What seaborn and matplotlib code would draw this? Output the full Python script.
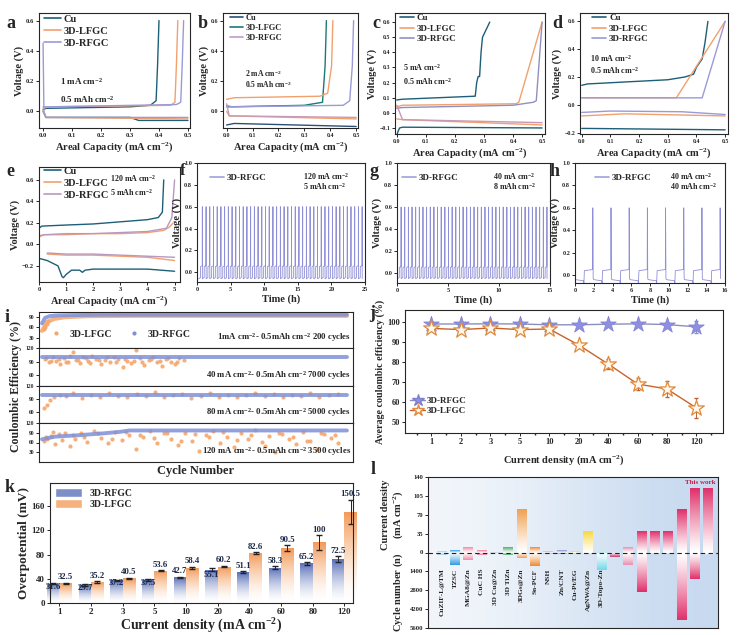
import numpy as np
import pandas as pd
import matplotlib
matplotlib.use("Agg")
import matplotlib.pyplot as plt
import seaborn as sns
from matplotlib.colors import to_rgb
from matplotlib.lines import Line2D
from matplotlib.patches import Patch

# ---------------- data ----------------
# panel a (1 mA cm-2, 0.5 mAh cm-2)
a_cu_dis_x = [0.0, 0.01, 0.30, 0.33, 0.50]
a_cu_dis_y = [0.00, -0.04, -0.04, -0.06, -0.06]
a_cu_chg_x = [0.0, 0.01, 0.30, 0.37, 0.39, 0.395, 0.40]
a_cu_chg_y = [0.01, 0.02, 0.03, 0.04, 0.07, 0.30, 0.60]
a_lf_dis_x = [0.0, 0.01, 0.50]
a_lf_dis_y = [0.00, -0.04, -0.05]
a_lf_chg_x = [0.0, 0.02, 0.44, 0.455, 0.46, 0.465]
a_lf_chg_y = [0.02, 0.03, 0.04, 0.06, 0.30, 0.60]
a_rf_dis_x = [0.0, 0.003, 0.01, 0.50]
a_rf_dis_y = [0.45, 0.00, -0.04, -0.04]
a_rf_chg_x = [0.0, 0.02, 0.46, 0.475, 0.48, 0.485]
a_rf_chg_y = [0.03, 0.03, 0.045, 0.06, 0.30, 0.60]

# panel b (2 mA cm-2)
b_cu_dis_x = [0.0, 0.03, 0.50]
b_cu_dis_y = [-0.09, -0.08, -0.10]
b_lf_chg_x = [0.0, 0.01, 0.30, 0.37, 0.38, 0.385]
b_lf_chg_y = [0.03, 0.03, 0.04, 0.06, 0.30, 0.60]
b_or_chg_x = [0.0, 0.03, 0.36, 0.39, 0.405, 0.41]
b_or_chg_y = [0.08, 0.09, 0.10, 0.12, 0.30, 0.60]
b_or_dis_x = [0.0, 0.01, 0.50]
b_or_dis_y = [0.00, -0.03, -0.05]
b_rf_chg_x = [0.0, 0.02, 0.45, 0.475, 0.485, 0.49]
b_rf_chg_y = [0.04, 0.03, 0.04, 0.07, 0.30, 0.60]
b_rf_dis_x = [0.0, 0.01, 0.50]
b_rf_dis_y = [0.05, -0.03, -0.04]

# panel c (5 mA cm-2)
c_cu_chg_x = [0.0, 0.02, 0.27, 0.275, 0.28, 0.285, 0.29, 0.295, 0.30, 0.32]
c_cu_chg_y = [0.085, 0.09, 0.11, 0.20, 0.24, 0.24, 0.40, 0.50, 0.52, 0.60]
c_cu_dis_x = [0.0, 0.005, 0.01, 0.02, 0.50]
c_cu_dis_y = [-0.15, -0.12, -0.10, -0.095, -0.10]
c_lf_chg_x = [0.0, 0.02, 0.41, 0.42, 0.50]
c_lf_chg_y = [0.04, 0.05, 0.06, 0.07, 0.60]
c_lf_dis_x = [0.0, 0.02, 0.50]
c_lf_dis_y = [-0.04, -0.045, -0.08]
c_rf_chg_x = [0.0, 0.02, 0.40, 0.47, 0.48, 0.50]
c_rf_chg_y = [0.03, 0.035, 0.05, 0.07, 0.08, 0.60]
c_rf_dis_x = [0.0, 0.02, 0.50]
c_rf_dis_y = [0.05, -0.045, -0.065]

# panel d (10 mA cm-2)
d_cu_chg_x = [0.0, 0.02, 0.30, 0.36, 0.39, 0.40, 0.41, 0.42, 0.43, 0.44]
d_cu_chg_y = [0.14, 0.15, 0.18, 0.20, 0.22, 0.27, 0.30, 0.33, 0.45, 0.60]
d_cu_dis_x = [0.0, 0.02, 0.50]
d_cu_dis_y = [-0.17, -0.17, -0.18]
d_lf_chg_x = [0.0, 0.33, 0.50]
d_lf_chg_y = [0.05, 0.05, 0.60]
d_lf_dis_x = [0.0, 0.15, 0.50]
d_lf_dis_y = [-0.08, -0.065, -0.08]
d_rf_chg_x = [0.0, 0.42, 0.50]
d_rf_chg_y = [0.05, 0.05, 0.60]
d_rf_dis_x = [0.0, 0.10, 0.35, 0.50]
d_rf_dis_y = [-0.055, -0.045, -0.05, -0.07]

# panel e (120 mA cm-2, 5 mAh cm-2)
e_cu_chg_x = [0.0, 0.1, 1.0, 2.0, 3.0, 4.0, 4.4, 4.55, 4.6]
e_cu_chg_y = [0.15, 0.17, 0.18, 0.19, 0.21, 0.23, 0.25, 0.30, 0.60]
e_cu_dis_x = [0.0, 0.3, 0.7, 0.85, 0.9, 1.0, 1.2, 1.5, 1.6, 1.7, 2.0, 3.0, 4.0, 5.0]
e_cu_dis_y = [-0.13, -0.15, -0.20, -0.30, -0.31, -0.28, -0.24, -0.24, -0.26, -0.24, -0.23, -0.23, -0.23, -0.25]
e_lf_chg_x = [0.0, 0.2, 1.0, 2.0, 3.0, 4.0, 4.6, 4.8, 4.95]
e_lf_chg_y = [0.07, 0.09, 0.09, 0.10, 0.10, 0.11, 0.13, 0.16, 0.20]
e_lf_dis_x = [0.3, 1.0, 2.0, 3.0, 4.0, 5.0]
e_lf_dis_y = [-0.09, -0.10, -0.10, -0.11, -0.12, -0.15]
e_rf_chg_x = [0.0, 0.2, 1.0, 2.0, 3.0, 4.0, 4.7, 4.9, 5.0]
e_rf_chg_y = [0.08, 0.09, 0.10, 0.10, 0.11, 0.12, 0.15, 0.25, 0.60]
e_rf_dis_x = [0.3, 1.0, 2.0, 3.0, 4.0, 5.0]
e_rf_dis_y = [-0.08, -0.09, -0.09, -0.10, -0.11, -0.12]

# panels f, g, h: one cycle profile, repeated for the number of cycles shown
f_cycle_t = [0.0, 0.26, 0.27, 0.53, 0.545, 0.553]
f_cycle_v = [-0.06, -0.05, 0.05, 0.06, 0.60, -0.06]
f_period = 0.553
f_cycles = 44
f_start = 0.25
g_cycle_t = [0.0, 0.17, 0.18, 0.345, 0.352, 0.3575]
g_cycle_v = [-0.05, -0.04, 0.05, 0.06, 0.60, -0.05]
g_period = 0.3575
g_cycles = 41
g_start = 0.05
h_cycle_t = [0.0, 0.05, 0.90, 0.95, 1.0, 1.88, 1.90, 1.94]
h_cycle_v = [-0.03, -0.04, -0.05, -0.07, 0.04, 0.05, 0.60, -0.03]
h_period = 1.94
h_cycles = 8
h_start = 0.0

# panel i: coulombic efficiency
i1_rf_x = [0, 2, 5, 10, 20, 40, 200]
i1_rf_y = [72, 88, 93, 95, 96, 97, 97]
i1_lf_x = [0, 3, 8, 15, 30, 60, 200]
i1_lf_y = [50, 75, 85, 90, 93, 94, 94]
i1_lfpt_x = [1, 2, 3, 4]
i1_lfpt_y = [55, 62, 70, 78]
i2_rf_x = [0, 7000]
i2_rf_y = [99, 99]
i2_lf_x = [60, 150, 250, 330, 420, 500, 600, 700, 780, 860, 950, 1050, 1150, 1250, 1350, 1450, 1550,
           1650, 1750, 1850, 1950, 2050, 2150, 2250, 2350, 2450, 2550, 2650, 2750, 2850, 2950, 3050, 3150, 3250,
           100, 200, 380, 550, 650, 820, 1000, 1100, 1300, 1500, 1700, 1900, 2100, 2300, 2500, 2700, 2900, 3100]
i2_lf_y = [95, 88, 100, 92, 85, 98, 90, 112, 94, 87, 99, 91, 103, 96, 84, 93, 89,
           101, 95, 78, 92, 86, 115, 97, 83, 94, 100, 88, 80, 96, 90, 85, 98, 93,
           97, 91, 95, 89, 102, 93, 97, 86, 94, 99, 90, 96, 92, 88, 95, 91, 97, 89]
i3_rf_x = [0, 5000]
i3_rf_y = [99, 99]
i3_lf_x = [30, 80, 130, 200, 300, 400, 500, 650, 800, 950, 1100, 1250, 1400, 1550, 1700, 1850, 2000, 2150,
           2300, 2450, 2600, 2750, 2900, 3050, 3200, 3350, 3500, 3650, 3800, 3950, 4100, 4250, 4400, 4550, 4700, 4850]
i3_lf_y = [70, 78, 88, 95, 100, 97, 105, 92, 99, 96, 103, 98, 94, 101, 97, 106, 95, 99,
           102, 93, 98, 104, 96, 100, 94, 99, 103, 97, 101, 95, 100, 98, 104, 96, 99, 101]
i4_rf_x = [0, 150, 400, 700, 900, 1000, 3500]
i4_rf_y = [70, 78, 82, 88, 93, 97, 97]
i4_lf_x = [20, 60, 100, 150, 200, 260, 320, 380, 450, 520, 600, 680, 760, 840, 920, 1000, 1080, 1160, 1240,
           1320, 1400, 1480, 1560, 1640, 1720, 1800, 1880, 1960, 2040, 2120, 2200, 2280, 2360, 2440, 2520,
           2600, 2680, 2760, 2840, 2920, 3000, 3080, 3160, 3240, 3320, 3400,
           40, 130, 230, 350, 480, 640, 800, 960, 1120, 1280, 1440, 1600, 1760, 1920, 2080, 2240, 2400,
           2560, 2720, 2880, 3040, 3200, 3360]
i4_lf_y = [65, 72, 80, 55, 85, 90, 48, 70, 88, 62, 95, 75, 58, 92, 68, 84, 40, 78, 96,
           60, 88, 72, 52, 90, 66, 35, 82, 94, 58, 76, 45, 88, 70, 98, 62,
           80, 30, 85, 72, 55, 92, 66, 40, 86, 74, 60,
           78, 92, 68, 84, 76, 88, 70, 93, 82, 74, 90, 64, 86, 78, 92, 68, 84,
           50, 90, 78, 64, 88, 82]

# panel j / k: current densities
densities = ["1", "2", "3", "5", "10", "20", "40", "60", "80", "120"]
j_rf_ce = [99.0, 99.0, 99.1, 99.0, 98.6, 98.6, 98.9, 99.1, 98.7, 97.6]
j_rf_err = [0.5, 0.5, 0.5, 0.5, 0.5, 0.5, 0.6, 0.8, 1.5, 3.0]
j_lf_ce = [96.8, 96.2, 97.0, 96.2, 96.5, 88.5, 79.0, 69.0, 66.5, 57.0]
j_lf_err = [1.0, 1.0, 1.0, 1.0, 1.0, 1.5, 2.5, 3.0, 4.0, 5.0]
k_rf_mv = [31.6, 29.7, 37.2, 37.5, 42.7, 55.1, 51.1, 58.3, 65.2, 72.5]
k_rf_err = [1.0, 1.0, 1.5, 1.5, 1.0, 2.0, 1.5, 3.0, 3.0, 5.0]
k_lf_mv = [32.5, 35.2, 40.5, 53.6, 58.4, 60.2, 82.6, 90.5, 100.0, 150.5]
k_lf_err = [1.0, 1.5, 1.5, 1.0, 1.5, 1.5, 2.0, 4.5, 12.0, 20.0]

# panel l: comparison with literature
l_names = ["CuZIF-L@TM", "TZSC", "MGA8@Zn", "CuC HS", "3D Cu@Zn", "3D TiZn", "3DGs@Zn", "Sn-PCF", "NSH",
           "Zn/CNT", "Cu-Pt/EG", "AgNWA@Zn", "3D-Topo-Zn", "", "", "", "", "", "", "", ""]
l_density = [2, 5, 10, 5, 1, 10, 80, 10, 2, 5, 2, 40, 1, 0, 10, 40, 40, 40, 80, 120, 120]
l_cycles = [200, 950, 560, 200, 50, 200, 440, 1000, 100, 100, 100, 50, 1300, 300, 900, 2900, 60, 60, 5000, 2000, 0]
l_colors = ["#9ec8e8", "#2f9be0", "#f08aa8", "#f07898", "#a8b4d4", "#4caf6c", "#f0a050", "#f08a30", "#b8b0e4",
            "#8090d0", "#e0d070", "#f8d840", "#70d8e8", "#c03870", "#e890b0", "#e0306a", "#e0306a",
            "#e0306a", "#e0306a", "#e0306a", "#e0306a"]

# ---------------- style ----------------
sns.set_theme(style="ticks")
plt.rcParams["font.family"] = ["Liberation Serif", "DejaVu Serif"]
plt.rcParams.update({
    "font.weight": "bold", "axes.labelweight": "bold", "axes.linewidth": 0.8,
    "xtick.major.size": 2, "ytick.major.size": 2, "xtick.major.width": 0.7, "ytick.major.width": 0.7,
    "xtick.major.pad": 1.5, "ytick.major.pad": 1.5, "axes.labelpad": 1.5,
    "mathtext.fontset": "custom", "mathtext.rm": "Liberation Serif:bold",
    "mathtext.bf": "Liberation Serif:bold", "mathtext.it": "Liberation Serif:bold:italic",
    "mathtext.default": "rm", "legend.handlelength": 1.6,
})

CU = "#1d5f78"
LF = "#f2a06e"
RF = "#9b9ad8"

W, H = 740, 635
fig = plt.figure(figsize=(W / 100, H / 100), dpi=100)
fig.patch.set_facecolor("white")


def add_ax(x0, y0, x1, y1):
    return fig.add_axes([x0 / W, 1 - y1 / H, (x1 - x0) / W, (y1 - y0) / H])


def line(ax, x, y, color, lw=1.0, alpha=1.0):
    sns.lineplot(x=x, y=y, ax=ax, color=color, lw=lw, sort=False, estimator=None, legend=False, alpha=alpha)


def style(ax, ts=4.8):
    ax.tick_params(labelsize=ts)
    for lab in ax.get_xticklabels() + ax.get_yticklabels():
        lab.set_fontweight("bold")


def leg(ax, items, fs, loc="upper left", **kw):
    handles = [Line2D([], [], color=c, lw=1.2) for _, c in items]
    ax.legend(handles, [n for n, _ in items], loc=loc, frameon=False, fontsize=fs,
              prop={"weight": "bold", "size": fs}, borderaxespad=0.1, handletextpad=0.3,
              labelspacing=0.25, **kw)


def panel(label, x, y, fs=13):
    fig.text(x / W, 1 - y / H, label, fontsize=fs, fontweight="bold", va="center", ha="left")


def cycles(t_prof, v_prof, period, n, t0):
    t = np.concatenate([t0 + k * period + np.asarray(t_prof) for k in range(n)])
    v = np.tile(np.asarray(v_prof), n)
    return t, v


# ---------------- a ----------------
ax = add_ax(39, 13, 190, 128)
line(ax, a_cu_dis_x, a_cu_dis_y, CU); line(ax, a_cu_chg_x, a_cu_chg_y, CU)
line(ax, a_lf_dis_x, a_lf_dis_y, LF); line(ax, a_lf_chg_x, a_lf_chg_y, LF)
line(ax, a_rf_dis_x, a_rf_dis_y, RF); line(ax, a_rf_chg_x, a_rf_chg_y, RF)
ax.set_xlim(-0.014, 0.507); ax.set_ylim(-0.11, 0.65)
ax.set_xticks([0, 0.1, 0.2, 0.3, 0.4, 0.5]); ax.set_yticks([0.0, 0.2, 0.4, 0.6])
ax.set_xlabel("Areal Capacity (mA cm$^{-2}$)", fontsize=7.5)
ax.set_ylabel("Voltage (V)", fontsize=7.5)
leg(ax, [("Cu", CU), ("3D-LFGC", LF), ("3D-RFGC", RF)], 7.5, bbox_to_anchor=(0.0, 1.03))
ax.text(0.06, 0.2, "1 mA cm$^{-2}$", fontsize=6.5, va="center")
ax.text(0.06, 0.08, "0.5 mAh cm$^{-2}$", fontsize=6.5, va="center")
style(ax)
panel("a", 6, 24)

# ---------------- b ----------------
ax = add_ax(223, 13, 358, 128)
line(ax, b_cu_dis_x, b_cu_dis_y, "#2c4f76")
line(ax, b_lf_chg_x, b_lf_chg_y, "#1a7a76")
line(ax, b_or_chg_x, b_or_chg_y, LF); line(ax, b_or_dis_x, b_or_dis_y, LF)
line(ax, b_rf_chg_x, b_rf_chg_y, RF); line(ax, b_rf_dis_x, b_rf_dis_y, "#c89ab8")
ax.set_xlim(-0.014, 0.507); ax.set_ylim(-0.11, 0.65)
ax.set_xticks([0, 0.1, 0.2, 0.3, 0.4, 0.5]); ax.set_yticks([0.0, 0.2, 0.4, 0.6])
ax.set_xlabel("Area Capacity (mA cm$^{-2}$)", fontsize=7.5)
ax.set_ylabel("Voltage (V)", fontsize=7.5)
leg(ax, [("Cu", "#2c4f76"), ("3D-LFGC", "#1a7a76"), ("3D-RFGC", "#c09ad0")], 6, bbox_to_anchor=(0.02, 1.03))
ax.text(0.07, 0.25, "2 mA cm$^{-2}$", fontsize=5.5, va="center")
ax.text(0.07, 0.18, "0.5 mAh cm$^{-2}$", fontsize=5.5, va="center")
style(ax, 4.2)
panel("b", 198, 24)

# ---------------- c ----------------
ax = add_ax(395, 13, 545, 134)
line(ax, c_cu_chg_x, c_cu_chg_y, CU); line(ax, c_cu_dis_x, c_cu_dis_y, CU)
line(ax, c_lf_chg_x, c_lf_chg_y, LF); line(ax, c_lf_dis_x, c_lf_dis_y, LF)
line(ax, c_rf_chg_x, c_rf_chg_y, "#9090c0"); line(ax, c_rf_dis_x, c_rf_dis_y, "#c898b8")
ax.set_xlim(-0.006, 0.51); ax.set_ylim(-0.14, 0.66)
ax.set_xticks([0, 0.1, 0.2, 0.3, 0.4, 0.5]); ax.set_yticks(np.round(np.arange(-0.1, 0.61, 0.1), 1))
ax.set_xlabel("Area Capacity (mA cm$^{-2}$)", fontsize=7.5)
ax.set_ylabel("Voltage (V)", fontsize=7.5)
leg(ax, [("Cu", CU), ("3D-LFGC", LF), ("3D-RFGC", "#9090c0")], 6.5, bbox_to_anchor=(0.0, 1.03))
ax.text(0.02, 0.30, "5 mA cm$^{-2}$", fontsize=5.8, va="center")
ax.text(0.02, 0.21, "0.5 mAh cm$^{-2}$", fontsize=5.8, va="center")
style(ax, 4.2)
panel("c", 372, 24)

# ---------------- d ----------------
ax = add_ax(580, 13, 728, 134)
line(ax, d_cu_chg_x, d_cu_chg_y, CU); line(ax, d_cu_dis_x, d_cu_dis_y, CU)
line(ax, d_lf_chg_x, d_lf_chg_y, LF); line(ax, d_lf_dis_x, d_lf_dis_y, LF)
line(ax, d_rf_chg_x, d_rf_chg_y, RF); line(ax, d_rf_dis_x, d_rf_dis_y, RF)
ax.set_xlim(-0.006, 0.51); ax.set_ylim(-0.21, 0.66)
ax.set_xticks([0, 0.1, 0.2, 0.3, 0.4, 0.5]); ax.set_yticks([-0.2, 0.0, 0.2, 0.4, 0.6])
ax.set_xlabel("Area Capacity (mA cm$^{-2}$)", fontsize=7.5)
ax.set_ylabel("Voltage (V)", fontsize=7.5)
leg(ax, [("Cu", CU), ("3D-LFGC", LF), ("3D-RFGC", RF)], 6.5, bbox_to_anchor=(0.05, 1.03))
ax.text(0.03, 0.33, "10 mA cm$^{-2}$", fontsize=5.8, va="center")
ax.text(0.03, 0.25, "0.5 mAh cm$^{-2}$", fontsize=5.8, va="center")
style(ax, 4.2)
panel("d", 552, 24)

# ---------------- e ----------------
ax = add_ax(39, 167, 180, 282)
line(ax, e_cu_chg_x, e_cu_chg_y, CU); line(ax, e_cu_dis_x, e_cu_dis_y, CU)
line(ax, e_lf_chg_x, e_lf_chg_y, LF); line(ax, e_lf_dis_x, e_lf_dis_y, LF)
line(ax, e_rf_chg_x, e_rf_chg_y, "#b898c0"); line(ax, e_rf_dis_x, e_rf_dis_y, "#b898c0")
ax.set_xlim(0, 5.2); ax.set_ylim(-0.35, 0.72)
ax.set_xticks([0, 1, 2, 3, 4, 5]); ax.set_yticks([-0.2, 0.0, 0.2, 0.4, 0.6])
ax.set_xlabel("Areal Capacity (mA cm$^{-2}$)", fontsize=7.5)
ax.set_ylabel("Voltage (V)", fontsize=7.5)
leg(ax, [("Cu", CU), ("3D-LFGC", LF), ("3D-RFGC", "#b898c0")], 7.5, bbox_to_anchor=(0.0, 1.05))
ax.text(2.6, 0.61, "120 mA cm$^{-2}$", fontsize=5.8, va="center")
ax.text(2.6, 0.48, "5 mAh cm$^{-2}$", fontsize=5.8, va="center")
style(ax)
panel("e", 6, 171)


# ---------------- f, g, h ----------------
def cycling(box, t, v, xlim, xticks, ylim, txt1, txt2, lab, lp, legx, lfs=13):
    ax = add_ax(*box)
    line(ax, list(t), list(v), "#8f8fd8", lw=0.6)
    ax.set_xlim(*xlim); ax.set_ylim(*ylim)
    ax.set_xticks(xticks); ax.set_yticks([0.0, 0.2, 0.4, 0.6, 0.8, 1.0])
    ax.set_xlabel("Time (h)", fontsize=7.5)
    ax.set_ylabel("Voltage (V)", fontsize=7.5)
    leg(ax, [("3D-RFGC", "#a0a0dc")], 6.5, bbox_to_anchor=(legx, 0.95))
    ax.text(0.63, 0.89, txt1, fontsize=5.8, transform=ax.transAxes, va="center")
    ax.text(0.63, 0.80, txt2, fontsize=5.8, transform=ax.transAxes, va="center")
    style(ax, 4.5)
    panel(lab, *lp, fs=lfs)


t, v = cycles(f_cycle_t, f_cycle_v, f_period, f_cycles, f_start)
cycling((197, 163, 365, 282), t, v, (0, 25), [0, 5, 10, 15, 20, 25], (-0.09, 1.0),
        "120 mA cm$^{-2}$", "5 mAh cm$^{-2}$", "f", (180, 171), 0.05, lfs=12)
t, v = cycles(g_cycle_t, g_cycle_v, g_period, g_cycles, g_start)
cycling((397, 163, 550, 283), t, v, (0, 15), [0, 5, 10, 15], (-0.09, 1.0),
        "40 mA cm$^{-2}$", "8 mAh cm$^{-2}$", "g", (370, 171), 0.0)
t, v = cycles(h_cycle_t, h_cycle_v, h_period, h_cycles, h_start)
cycling((575, 163, 725, 283), t, v, (0, 16), list(range(0, 17, 2)), (-0.07, 1.0),
        "40 mA cm$^{-2}$", "40 mAh cm$^{-2}$", "h", (550, 171), 0.1)

# ---------------- i ----------------
OR = "#f5a66b"
BL = "#7f90d8"
i_boxes = [(39, 312, 353, 348), (39, 348, 353, 386), (39, 386, 353, 423), (39, 423, 353, 462)]
i_specs = [
    (i1_rf_x, i1_rf_y, i1_lf_x, i1_lf_y, i1_lfpt_x, i1_lfpt_y, 200, (0, 105), [30, 60, 90],
     "1mA cm$^{-2}$- 0.5mAh cm$^{-2}$ 200 cycles"),
    (i2_rf_x, i2_rf_y, None, None, i2_lf_x, i2_lf_y, 7000, (36, 120), [60, 90, 120],
     "40 mA cm$^{-2}$- 0.5mAh cm$^{-2}$ 7000 cycles"),
    (i3_rf_x, i3_rf_y, None, None, i3_lf_x, i3_lf_y, 5000, (36, 120), [60, 90, 120],
     "80 mA cm$^{-2}$- 0.5mAh cm$^{-2}$ 5000 cycles"),
    (i4_rf_x, i4_rf_y, None, None, i4_lf_x, i4_lf_y, 3500, (0, 120), [30, 60, 90, 120],
     "120 mA cm$^{-2}$- 0.5mAh cm$^{-2}$ 3500 cycles"),
]
for k_, (box, spec) in enumerate(zip(i_boxes, i_specs)):
    rx, ry, lx, ly, px, py, xmax, ylim, yt, txt = spec
    ax = add_ax(*box)
    if lx is not None:
        line(ax, lx, ly, OR, lw=3.0, alpha=0.85)
    sns.scatterplot(x=px, y=py, ax=ax, color=OR, s=9, linewidth=0, alpha=0.9, legend=False)
    line(ax, rx, ry, BL, lw=2.8, alpha=0.85)
    ax.set_xlim(-0.01 * xmax, xmax * 1.02); ax.set_ylim(*ylim)
    ax.set_xticks([]); ax.set_yticks(yt)
    ax.text(0.995, 0.1, txt, transform=ax.transAxes, ha="right", va="bottom", fontsize=6.3)
    style(ax, 4.0)
    if k_ == 0:
        hs = [Line2D([], [], ls="", marker="o", ms=2, color=OR), Line2D([], [], ls="", marker="o", ms=2, color=BL)]
        ax.legend(hs, ["3D-LFGC", "3D-RFGC"], ncol=2, loc="center left", bbox_to_anchor=(0.0, 0.38),
                  frameon=False, prop={"weight": "bold", "size": 7}, columnspacing=1.5, handletextpad=0.6)
fig.text(16 / W, 1 - 387 / H, "Coulombic Efficiency (%)", rotation=90, fontsize=8.5, fontweight="bold",
         ha="center", va="center")
fig.text(196 / W, 1 - 471 / H, "Cycle Number", fontsize=9, fontweight="bold", ha="center", va="center")
panel("i", 5, 318)

# ---------------- j ----------------
ax = add_ax(405, 310, 723, 433)
xpos = list(range(len(densities)))
line(ax, xpos, j_lf_ce, "#c8642a", lw=1.0)
line(ax, xpos, j_rf_ce, "#8a8fbf", lw=1.0)
ax.errorbar(xpos, j_lf_ce, yerr=j_lf_err, fmt="none", ecolor="#c06030", elinewidth=0.7, capsize=1.5)
ax.errorbar(xpos, j_rf_ce, yerr=j_rf_err, fmt="none", ecolor="#8a8fbf", elinewidth=0.7, capsize=1.5)
sns.scatterplot(x=xpos, y=j_rf_ce, ax=ax, marker="*", s=140, color="#8e8fe2", edgecolor="#7f80cc",
                linewidth=0.5, legend=False, zorder=4)
sns.scatterplot(x=xpos, y=j_lf_ce, ax=ax, marker="*", s=140, color="#fff6ea", edgecolor="#e08a3a",
                linewidth=0.9, legend=False, zorder=4)
ax.set_xlim(-0.9, 9.9); ax.set_ylim(44.5, 106)
ax.set_xticks(xpos); ax.set_xticklabels(densities)
ax.set_xticks([p + 0.5 for p in xpos[:-1]] + [-0.5, 9.5], minor=True)
ax.tick_params(which="minor", length=1.5)
ax.set_yticks([50, 60, 70, 80, 90, 100])
ax.set_xlabel("Current density (mA cm$^{-2}$)", fontsize=7.5, labelpad=5)
ax.set_ylabel("Average coulombic efficiency (%)", fontsize=7.2)
hs = [Line2D([], [], color="#8a8fbf", marker="*", ms=9, mfc="#8e8fe2", mec="#7f80cc", lw=1),
      Line2D([], [], color="#c8642a", marker="*", ms=9, mfc="#fff6ea", mec="#e08a3a", lw=1)]
ax.legend(hs, ["3D-RFGC", "3D-LFGC"], loc="lower left", bbox_to_anchor=(0.0, 0.1), frameon=False,
          prop={"weight": "bold", "size": 6.5}, handletextpad=0.2, labelspacing=0.2, borderaxespad=0.2)
style(ax, 6)
panel("j", 369, 314)


# ---------------- gradients helper ----------------
def gradient_fill(ax, patches, colors, power=1.3):
    for p, col in zip(patches, colors):
        x, y, w, h = p.get_x(), p.get_y(), p.get_width(), p.get_height()
        if h == 0:
            continue
        c = np.array(to_rgb(col))
        s = np.linspace(0.0, 1.0, 64) ** power
        img = (1 - s)[:, None] * np.ones(3)[None, :] + s[:, None] * c[None, :]
        img = img[:, None, :]
        if h > 0:
            extent = [x, x + w, y, y + h]
        else:
            img = img[::-1]
            extent = [x, x + w, y + h, y]
        im = ax.imshow(img, extent=extent, origin="lower", aspect="auto", zorder=p.get_zorder(),
                       interpolation="bilinear")
        im.set_clip_path(p)
        p.set_facecolor("none")
        p.set_edgecolor("none")


# ---------------- k ----------------
ax = add_ax(50, 483, 353, 603)
k_df = pd.DataFrame({
    "density": densities * 2,
    "value": k_rf_mv + k_lf_mv,
    "sample": ["3D-RFGC"] * len(densities) + ["3D-LFGC"] * len(densities),
})
sns.barplot(data=k_df, x="density", y="value", hue="sample", order=densities,
            hue_order=["3D-RFGC", "3D-LFGC"], palette={"3D-RFGC": "#5a70b8", "3D-LFGC": "#f39a58"},
            width=0.78, ax=ax, errorbar=None, legend=False)
bars = list(ax.patches)
rf_bars = bars[:len(densities)]
lf_bars = bars[len(densities):]
xlim = (-0.3, 9.27); ylim = (0, 198)
gradient_fill(ax, rf_bars, ["#5a70b8"] * len(rf_bars), power=1.6)
gradient_fill(ax, lf_bars, ["#f39a58"] * len(lf_bars), power=1.6)
rf_cx = [b.get_x() + b.get_width() / 2 for b in rf_bars]
lf_cx = [b.get_x() + b.get_width() / 2 for b in lf_bars]
ax.errorbar(rf_cx, k_rf_mv, yerr=k_rf_err, fmt="none", ecolor="#222222", elinewidth=0.7, capsize=2, zorder=5)
ax.errorbar(lf_cx, k_lf_mv, yerr=k_lf_err, fmt="none", ecolor="#222222", elinewidth=0.7, capsize=2, zorder=5)
rf_label_dy = [-11, -11, -11, -11, 3, -15, 3, 4, 4, 7]
for cx, v, e, dy in zip(rf_cx, k_rf_mv, k_rf_err, rf_label_dy):
    ax.text(cx, v + dy, f"{v:g}", ha="center", va="bottom", fontsize=6.3, color="#1c2a48", zorder=6)
for cx, v, e in zip(lf_cx, k_lf_mv, k_lf_err):
    ax.text(cx, v + e + 2, f"{v:g}", ha="center", va="bottom", fontsize=6.3, color="#1c2a48", zorder=6)
ax.set_xlim(*xlim); ax.set_ylim(*ylim)
ax.set_yticks([0, 40, 80, 120, 160])
ax.set_xlabel("Current density (mA cm$^{-2}$)", fontsize=10, labelpad=1)
ax.set_ylabel("Overpotential (mV)", fontsize=9.5)
hs = [Patch(facecolor="#7d8fc8"), Patch(facecolor="#f5b17e")]
ax.legend(hs, ["3D-RFGC", "3D-LFGC"], loc="upper left", frameon=False, prop={"weight": "bold", "size": 7},
          handlelength=2.8, handleheight=1.0, borderaxespad=0.1, labelspacing=0.2)
style(ax, 6.5)
panel("k", 5, 488)

# ---------------- l ----------------
ax = add_ax(428, 477, 718, 628)
bg = np.array([[to_rgb("#f2f6fb"), to_rgb("#dde8f5"), to_rgb("#c8daf0")]])
ax.imshow(bg, extent=[-1.03, 20.72, -4, 4], aspect="auto", zorder=0, interpolation="bicubic")
keys = [f"c{n}" for n in range(len(l_names))]
l_df = pd.DataFrame({"key": keys, "top": [d / 35 for d in l_density], "bot": [-c / 1400 for c in l_cycles]})
sns.barplot(data=l_df, x="key", y="top", order=keys, color="#cccccc", width=0.75, ax=ax, errorbar=None)
sns.barplot(data=l_df, x="key", y="bot", order=keys, color="#cccccc", width=0.75, ax=ax, errorbar=None)
pats = list(ax.patches)
gradient_fill(ax, pats[:len(keys)], l_colors, power=1.2)
gradient_fill(ax, pats[len(keys):], l_colors, power=1.2)
ax.axhline(0, color="#222222", lw=0.8, ls=(0, (4, 3)), zorder=6)
for n, name in enumerate(l_names):
    if name:
        ax.text(n, -0.85, name, rotation=90, ha="center", va="top", fontsize=5.3, zorder=7)
ax.text(19.4, 3.72, "This work", color="#c0204a", fontsize=5, ha="center", va="center", zorder=7)
ax.set_xlim(-1.03, 20.72); ax.set_ylim(-4, 4)
ax.set_xticks([]); ax.set_xlabel(""); ax.set_ylabel("")
ax.set_yticks(list(range(-4, 5)))
ax.set_yticklabels(["5600", "4200", "2800", "1400", "0", "35", "70", "105", "140"])
style(ax, 4.8)
fig.text(393 / W, 1 - 515 / H, "Current density\n(mA cm$^{-2}$)", rotation=90, fontsize=7.5,
         fontweight="bold", ha="center", va="center", linespacing=1.1)
fig.text(398 / W, 1 - 592 / H, "Cycle number ($n$)", rotation=90, fontsize=7.5, fontweight="bold",
         ha="center", va="center")
panel("l", 371, 470)

fig.savefig("out.png", dpi=100, facecolor="white")
